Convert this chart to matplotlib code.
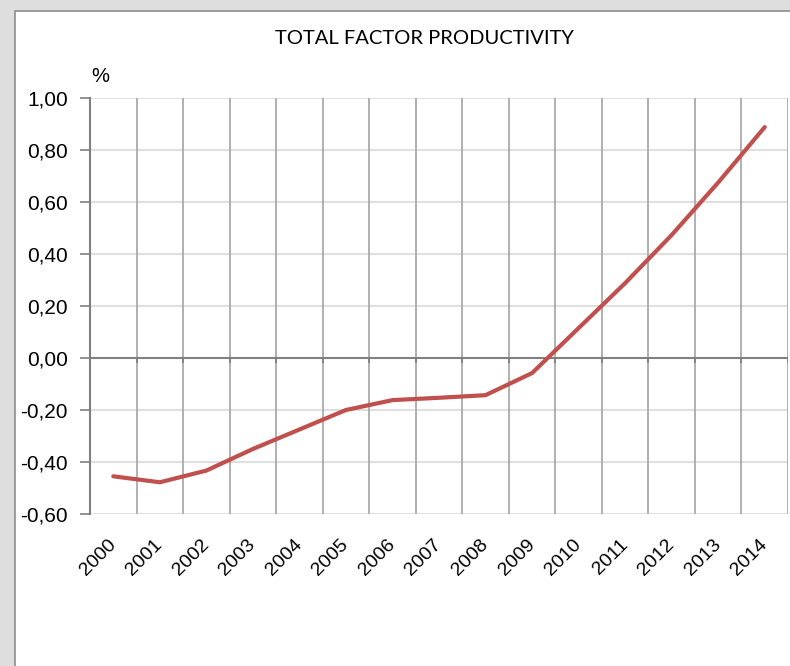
import numpy as np
import matplotlib
matplotlib.use("Agg")
import matplotlib.pyplot as plt
from matplotlib.patches import Rectangle

# Total factor productivity, % (annual)
years = ['2000', '2001', '2002', '2003', '2004', '2005', '2006', '2007',
         '2008', '2009', '2010', '2011', '2012', '2013', '2014']
tfp = [-0.455, -0.478, -0.433, -0.350, -0.275, -0.200, -0.162, -0.153,
       -0.143, -0.058, 0.115, 0.288, 0.473, 0.675, 0.888]
yticks = [-0.6, -0.4, -0.2, 0.0, 0.2, 0.4, 0.6, 0.8, 1.0]

W, H = 790, 666
fig = plt.figure(figsize=(W / 100, H / 100), dpi=100)
fig.patch.set_facecolor('#dedede')

# white chart panel with grey border
fig.patches.append(Rectangle((15 / W, -0.01), 1.0, 1 - 11 / H + 0.01,
                             transform=fig.transFigure, facecolor='white',
                             edgecolor='#8c8c8c', linewidth=1.2, zorder=-5))

ax = fig.add_axes([90 / W, 1 - 514 / H, 698 / W, 416 / H])
ax.set_facecolor('none')
ax.set_zorder(2)

x = np.arange(len(years))
ax.set_xlim(-0.5, len(years) - 0.5)
ax.set_ylim(-0.6, 1.0)

# gridlines
for yv in yticks:
    ax.axhline(yv, color='#d9d9d9', lw=1.2, zorder=1)
bounds = x + 0.5
for b in bounds:
    ax.axvline(b, color='#aaaaaa', lw=1.3, zorder=1)
ax.axhline(0, color='#808080', lw=1.5, zorder=2)
ax.vlines(bounds, -0.02, 0, color='#808080', lw=1.3, zorder=2)

ax.plot(x, tfp, color='#c0504d', lw=3.0, solid_capstyle='round', zorder=3)

for s in ['top', 'right', 'bottom']:
    ax.spines[s].set_visible(False)
ax.spines['left'].set_color('#808080')
ax.spines['left'].set_linewidth(1.5)

ax.set_yticks(yticks)
ax.set_yticklabels([f"{v:.2f}".replace('.', ',') for v in yticks],
                   fontsize=15, family='Liberation Sans')
ax.tick_params(axis='y', direction='out', length=7, width=1.2,
               color='#808080', pad=9)

ax.set_xticks(x)
ax.set_xticklabels(years, fontsize=14, family='Liberation Sans',
                   rotation=45, ha='right', va='center',
                   rotation_mode='anchor')
ax.tick_params(axis='x', length=0, pad=20)

fig.text(100 / W, 1 - 77 / H, '%', fontsize=14.5, family='Liberation Sans',
         ha='center', va='center')
fig.text(424 / W, 1 - 38 / H, 'TOTAL FACTOR PRODUCTIVITY', fontsize=14.5,
         family='Lato', ha='center', va='center')

fig.savefig('out.png', dpi=100, facecolor=fig.get_facecolor())
